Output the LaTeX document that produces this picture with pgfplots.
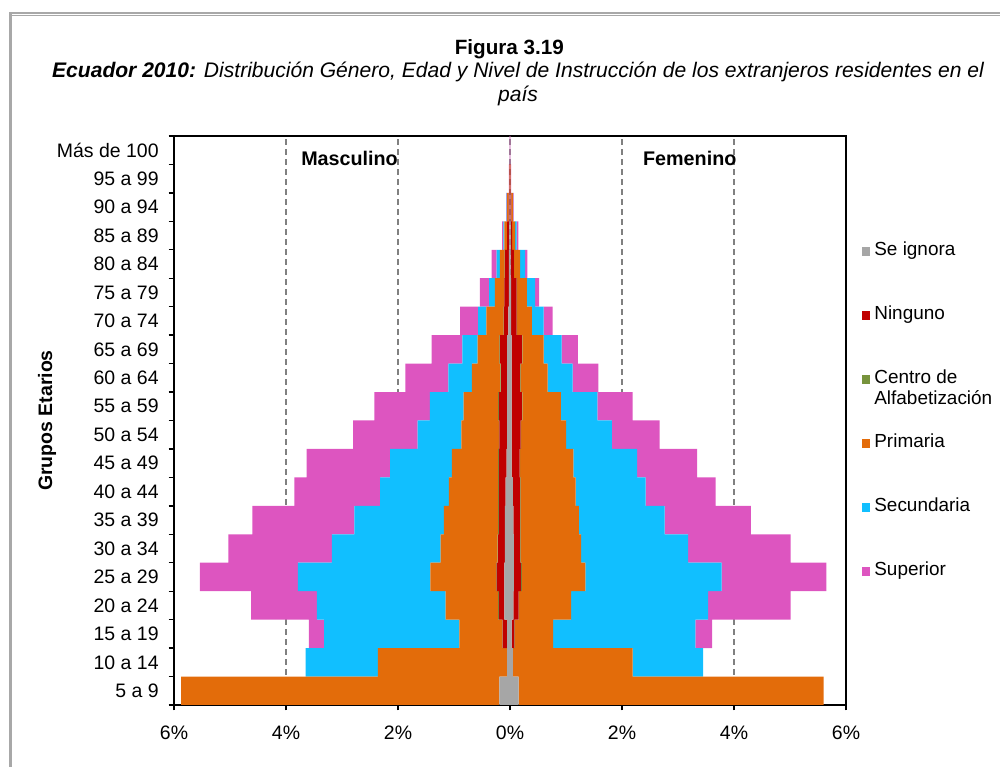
\documentclass[border=0pt]{standalone}
\usepackage{fontspec}
\setmainfont{Liberation Sans}
\usepackage{pgfplots}
\usepackage{pgfplotstable}
\pgfplotsset{compat=1.18}

\definecolor{cIgn}{HTML}{A6A6A6}
\definecolor{cNin}{HTML}{C00000}
\definecolor{cCen}{HTML}{77933C}
\definecolor{cPri}{HTML}{E36C0A}
\definecolor{cSec}{HTML}{11BFFF}
\definecolor{cSup}{HTML}{DD55C0}
\definecolor{cFrame}{HTML}{A8A8A8}

% first 20 rows: Masculino (negative), next 20 rows: Femenino (positive)
\pgfplotstableread{
y ign nin cen pri sec sup
0 -0.19 0 0 -5.685 0 0
1 -0.05 0 0 -2.31 -1.29 0
2 -0.05 -0.08 -0.005 -0.77 -2.415 -0.27
3 -0.10 -0.10 -0.01 -0.94 -2.30 -1.175
4 -0.10 -0.14 -0.01 -1.17 -2.37 -1.75
5 -0.09 -0.12 -0.01 -1.02 -1.94 -1.85
6 -0.09 -0.11 -0.01 -0.97 -1.60 -1.82
7 -0.08 -0.12 -0.01 -0.88 -1.23 -1.53
8 -0.06 -0.14 -0.01 -0.83 -1.10 -1.49
9 -0.05 -0.14 -0.01 -0.67 -0.78 -1.15
10 -0.05 -0.15 -0.01 -0.62 -0.60 -0.99
11 -0.05 -0.11 -0.01 -0.51 -0.42 -0.77
12 -0.05 -0.13 -0.01 -0.39 -0.27 -0.55
13 -0.03 -0.08 -0.005 -0.305 -0.15 -0.32
14 -0.02 -0.08 -0.005 -0.165 -0.105 -0.165
15 -0.02 -0.07 -0.005 -0.085 -0.06 -0.09
16 -0.01 -0.04 0 -0.05 -0.02 -0.02
17 -0.005 -0.02 0 -0.025 -0.01 -0.01
18 -0.003 -0.005 0 -0.005 0 -0.005
19 -0.002 0 0 0 0 -0.005
0 0.155 0 0 5.445 0 0
1 0.05 0 0 2.14 1.26 0
2 0.03 0.05 0.005 0.685 2.54 0.30
3 0.06 0.095 0.01 0.925 2.45 1.47
4 0.07 0.13 0.01 1.135 2.435 1.87
5 0.07 0.11 0.01 1.08 1.91 1.83
6 0.06 0.12 0.01 1.04 1.53 1.54
7 0.05 0.13 0.01 0.98 1.25 1.25
8 0.03 0.14 0.01 0.95 1.14 1.07
9 0.03 0.16 0.01 0.80 0.82 0.85
10 0.03 0.18 0.01 0.69 0.65 0.63
11 0.03 0.15 0.01 0.48 0.45 0.46
12 0.03 0.18 0.01 0.38 0.32 0.29
13 0.02 0.10 0.005 0.265 0.21 0.16
14 0.02 0.10 0.005 0.175 0.15 0.07
15 0.01 0.06 0.005 0.105 0.09 0.04
16 0.01 0.03 0 0.05 0.03 0.03
17 0.005 0.02 0 0.025 0.005 0.01
18 0.003 0.005 0 0.005 0 0.005
19 0.002 0 0 0 0 0.005
}\datatable

\begin{document}
\begin{tikzpicture}
\path[use as bounding box] (0,0) rectangle (750pt,575.25pt);
% frame
\draw[cFrame, line width=1pt] (7.5pt,565.5pt) -- (750pt,565.5pt);
\draw[cFrame, line width=1pt] (7.5pt,563.5pt) -- (750pt,563.5pt);
\draw[cFrame, line width=2.3pt] (8.1pt,566pt) -- (8.1pt,0pt);
% titles
\node[font=\fontsize{15.5}{18}\selectfont\bfseries] at (382pt,538.5pt) {Figura 3.19};
\node[font=\fontsize{15.8}{18}\selectfont\itshape, align=center] at (388.5pt,512.5pt)
  {\textbf{Ecuador 2010:} Distribución Género, Edad y Nivel de Instrucción de los extranjeros residentes en el\\país};
\begin{axis}[
  at={(130.5pt,46.5pt)}, anchor=south west,
  scale only axis, width=504pt, height=426.75pt,
  xbar stacked, bar width=1,
  xmin=-6, xmax=6, ymin=-0.5, ymax=19.5,
  xtick={-6,-4,...,6},
  xticklabels={6\%,4\%,2\%,0\%,2\%,4\%,6\%},
  ytick={0,...,19},
  yticklabels={5 a 9,10 a 14,15 a 19,20 a 24,25 a 29,30 a 34,35 a 39,40 a 44,45 a 49,50 a 54,55 a 59,60 a 64,65 a 69,70 a 74,75 a 79,80 a 84,85 a 89,90 a 94,95 a 99,Más de 100},
  minor ytick={-0.5,0.5,...,19.5},
  tick align=outside, tick pos=left,
  major tick length=4pt, minor tick length=4pt,
  major y tick style={draw=none},
  every tick/.style={black, line width=1pt},
  axis line style={black, line width=1.2pt},
  xmajorgrids,
  grid style={dashed, gray, line width=0.9pt, dash pattern=on 4.5pt off 3pt},
  ticklabel style={font=\fontsize{14.6}{16}\selectfont},
  xticklabel style={yshift=-8.5pt},
  yticklabel style={xshift=-4pt},
  ylabel={Grupos Etarios},
  ylabel style={font=\fontsize{14.6}{17}\selectfont\bfseries, at={(axis description cs:-0.189,0.5)}, anchor=center, rotate=0},
  legend image code/.code={\fill[#1] (0pt,-3.2pt) rectangle (6pt,3.2pt);},
  legend style={at={(axis description cs:1.018,0.816)}, anchor=north west, draw=none, fill=none,
    font=\fontsize{14.2}{16}\selectfont, row sep=36pt, column sep=3pt,
    nodes={inner sep=0pt, text height=9pt, text depth=3pt}},
  legend cell align=left,
  clip=false,
]
\addplot[fill=cIgn, draw=none] table[x=ign, y=y] {\datatable};
\addlegendentry{Se ignora}
\addplot[fill=cNin, draw=none] table[x=nin, y=y] {\datatable};
\addlegendentry{Ninguno}
\addplot[fill=cCen, draw=none] table[x=cen, y=y] {\datatable};
\addlegendentry{\makebox[0pt][l]{\raisebox{-16pt}[0pt][0pt]{Alfabetización}}Centro de}
\addplot[fill=cPri, draw=none] table[x=pri, y=y] {\datatable};
\addlegendentry{Primaria}
\addplot[fill=cSec, draw=none] table[x=sec, y=y] {\datatable};
\addlegendentry{Secundaria}
\addplot[fill=cSup, draw=none] table[x=sup, y=y] {\datatable};
\addlegendentry{Superior}
\node[font=\fontsize{14.8}{16}\selectfont\bfseries] at (axis cs:-2.866,18.7) {Masculino};
\node[font=\fontsize{14.8}{16}\selectfont\bfseries] at (axis cs:3.21,18.7) {Femenino};
\end{axis}
\end{tikzpicture}
\end{document}
